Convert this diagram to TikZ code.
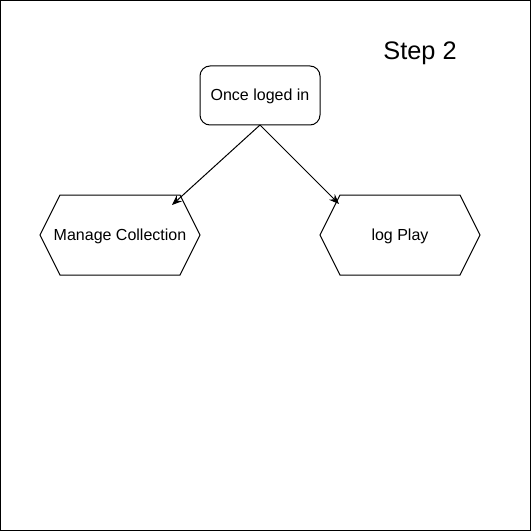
\documentclass[tikz,border=0pt]{standalone}
\usepackage{fontspec}
\setmainfont{Liberation Sans}
\usetikzlibrary{arrows.meta}

\tikzset{every picture/.style={line width=0.75pt}}
\tikzset{
  hexa/.style={draw=none, font=\fontsize{12}{14}\selectfont},
  conn/.style={-{Stealth[length=7.5pt,width=6pt,inset=2.5pt]}},
}

\begin{document}
\begin{tikzpicture}[x=0.75pt,y=0.75pt,yscale=-1,xscale=1]
	%Frame
	\draw (0.5,0.5) rectangle (530.5,530.5);
	\useasboundingbox (0,0) rectangle (531,531);

	% Text Node
	\draw (420,53) node [font=\fontsize{19}{22}\selectfont] (step) {Step 2};

	%Rounded Rect
	\draw [rounded corners=7.5pt] (200,66) rectangle (320,125);
	\draw (260,96.5) node [hexa] (login) {Once loged in};
	\coordinate (loginb) at (260,125);

	%Shape: Hexagon
	\draw (40,235) -- (60,195) -- (180,195) -- (200,235) -- (180,275) -- (60,275) -- cycle;
	\draw (120,236) node [hexa] (manage) {Manage Collection};
	\coordinate (managetop) at (172,205);

	%Shape: Hexagon
	\draw (320,235) -- (340,195) -- (460,195) -- (480,235) -- (460,275) -- (340,275) -- cycle;
	\draw (400,236) node [hexa] (logplay) {log Play};
	\coordinate (logplaytop) at (339,204);

	%Straight Lines
	\draw [conn] (loginb) -- (managetop);
	\draw [conn] (loginb) -- (logplaytop);

\end{tikzpicture}
\end{document}
